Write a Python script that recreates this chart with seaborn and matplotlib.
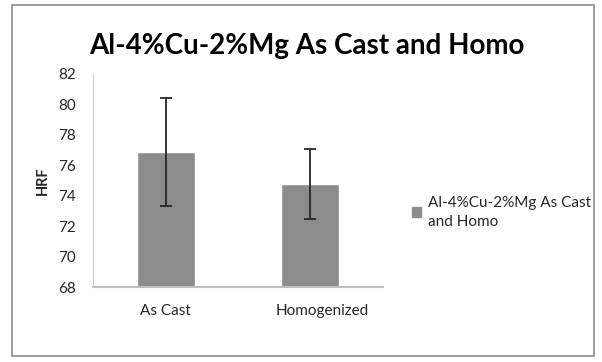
import numpy as np
import pandas as pd
import matplotlib
matplotlib.use("Agg")
import matplotlib.pyplot as plt
import matplotlib.patches as mpatches
import matplotlib.transforms as mtransforms
import seaborn as sns

categories = ["As Cast", "Homogenized"]
hrf_mean = [76.9, 74.8]
hrf_err = [3.55, 2.3]
series_name = "Al-4%Cu-2%Mg As Cast and Homo"
yticks = [68, 70, 72, 74, 76, 78, 80, 82]

df = pd.DataFrame({"cond": categories, "hrf": hrf_mean})

sns.set_style("white")
plt.rcParams["font.family"] = ["Lato", "DejaVu Sans"]

fig = plt.figure(figsize=(6.02, 3.62), dpi=100)
ax = fig.add_axes([0.1545, 0.207, 0.4817, 0.5886])

bar_col = "#8c8c8c"
sns.barplot(data=df, x="cond", y="hrf", color=bar_col, width=0.4,
            saturation=1, ax=ax)

xs = [p.get_x() + p.get_width() / 2 for p in ax.patches]
ax.errorbar(xs, hrf_mean, yerr=hrf_err, fmt="none", ecolor="#262626",
            elinewidth=1.3, capsize=4, capthick=1.3)

ax.set_ylim(68, 82)
ax.set_xlim(-0.5, 1.5)
ax.set_yticks(yticks)
ax.tick_params(axis="y", labelsize=11, length=0, pad=12, colors="#262626")
ax.tick_params(axis="x", labelsize=11, length=0, pad=12, colors="#262626")
ax.set_xlabel("")
ax.set_ylabel("HRF", fontsize=10.5, fontweight="bold", labelpad=6)

# Excel puts the second label a bit off-centre
lbl = ax.get_xticklabels()[1]
lbl.set_transform(lbl.get_transform() +
                  mtransforms.ScaledTranslation(12 / 100, 0, fig.dpi_scale_trans))

for s in ["top", "right"]:
    ax.spines[s].set_visible(False)
ax.spines["left"].set_color("#d0d0d0")
ax.spines["bottom"].set_color("#bfbfbf")
ax.spines["bottom"].set_linewidth(1.5)

fig.text(0.51, 0.873, series_name, ha="center", va="center",
         fontsize=20, fontweight="bold", color="#000000")

handle = mpatches.Patch(color=bar_col)
fig.legend([handle], ["Al-4%Cu-2%Mg As Cast\nand Homo"], loc="center left",
           bbox_to_anchor=(0.662, 0.414), frameon=False, fontsize=11,
           handlelength=0.6, handleheight=0.6, handletextpad=0.4)
for t in fig.legends[0].get_texts():
    t.set_linespacing(1.45)
    t.set_color("#262626")

fig.patches.append(mpatches.Rectangle((12 / 602, 6 / 362), 582 / 602, 351 / 362,
                                      transform=fig.transFigure, fill=False,
                                      edgecolor="#8c8c8c", linewidth=1.2))

fig.savefig("out.png", dpi=100)
